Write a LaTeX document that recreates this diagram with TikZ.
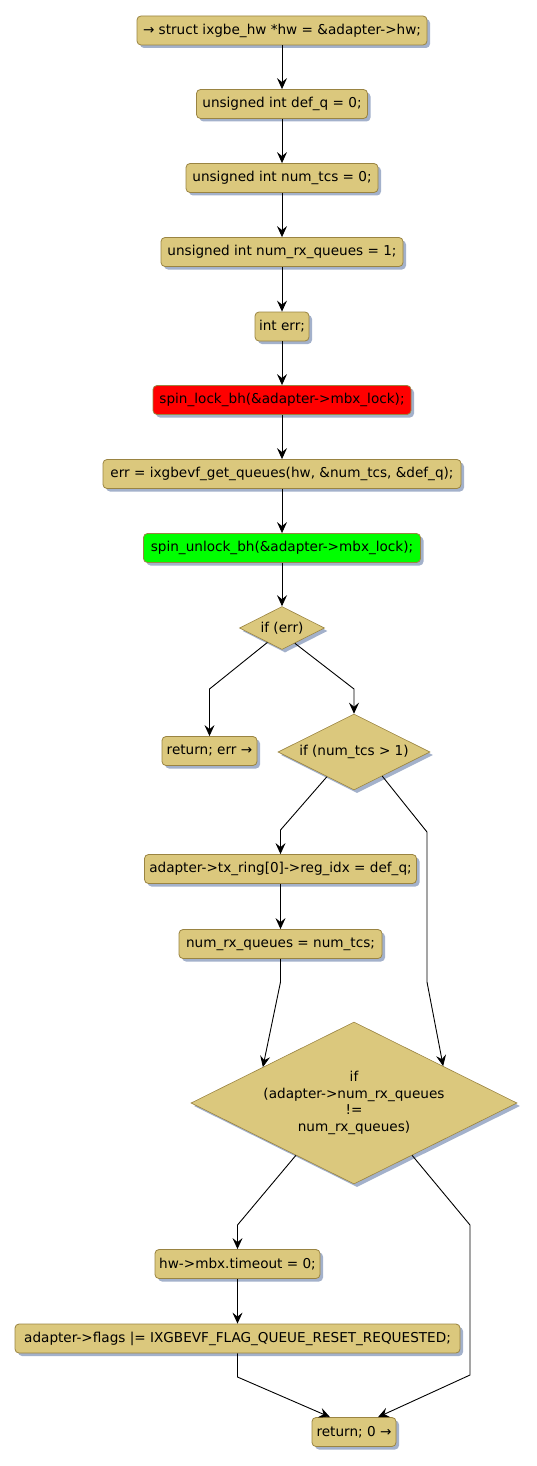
\documentclass[tikz,border=0pt]{standalone}
\usepackage{fontspec}
\setmainfont{DejaVu Sans}
\usetikzlibrary{shapes.geometric,arrows.meta,shadows,calc}
\definecolor{boxfill}{HTML}{DBC87D}
\definecolor{boxline}{HTML}{9A8442}
\definecolor{shadowc}{HTML}{A3B1CB}
\definecolor{lockred}{HTML}{FF0000}
\definecolor{unlockgreen}{HTML}{00FF00}
\tikzset{
  shade3/.style={drop shadow={shadow xshift=3pt,shadow yshift=-3pt,fill=shadowc,opacity=1}},
  act/.style={rectangle,rounded corners=4pt,draw=boxline,fill=boxfill,line width=0.8pt,
    minimum height=29pt,inner sep=0pt,font=\fontsize{13.6}{16.5}\selectfont,shade3},
  cond/.style={diamond,draw=boxline,fill=boxfill,line width=0.6pt,inner sep=0pt,aspect=2,
    font=\fontsize{13.6}{16.5}\selectfont,align=center,shade3},
  arr/.style={draw=black,line width=0.9pt,-{Stealth[length=11pt,width=10pt,inset=4pt]}},
}
\begin{document}
\begin{tikzpicture}[x=1pt,y=-1pt]
\useasboundingbox (0,0) rectangle (536,1466);
\node[act,minimum width=290pt] (n1) at (282,30.5) {→ struct ixgbe\_hw *hw = \&adapter->hw;};
\node[act,minimum width=171pt] (n2) at (282,104) {unsigned int def\_q = 0;};
\node[act,minimum width=192pt] (n3) at (282,178) {unsigned int num\_tcs = 0;};
\node[act,minimum width=242pt] (n4) at (282,252) {unsigned int num\_rx\_queues = 1;};
\node[act,minimum width=54pt] (n5) at (282,326.5) {int err;};
\node[act,minimum width=258pt,fill=lockred] (n6) at (282,400) {spin\_lock\_bh(\&adapter->mbx\_lock);};
\node[act,minimum width=358pt] (n7) at (282,474) {err = ixgbevf\_get\_queues(hw, \&num\_tcs, \&def\_q);};
\node[act,minimum width=277pt,fill=unlockgreen] (n8) at (282,548) {spin\_unlock\_bh(\&adapter->mbx\_lock);};
\node[cond,minimum width=85pt,minimum height=43pt] (c1) at (282,628) {if (err)};
\node[act,minimum width=95pt] (r1) at (209.5,751) {return; err →};
\node[cond,minimum width=152pt,minimum height=76pt] (c2) at (354,752) {if (num\_tcs > 1)};
\node[act,minimum width=272pt] (n9) at (280.5,869) {adapter->tx\_ring[0]->reg\_idx = def\_q;};
\node[act,minimum width=203pt] (n10) at (280.5,944) {num\_rx\_queues = num\_tcs;};
\node[cond,minimum width=326pt,minimum height=162pt] (c3) at (354,1103) {if\\(adapter->num\_rx\_queues\\!=\\num\_rx\_queues)};
\node[act,minimum width=165pt] (n11) at (237.5,1264) {hw->mbx.timeout = 0;};
\node[act,minimum width=445pt] (n12) at (237.5,1338.5) {adapter->flags |= IXGBEVF\_FLAG\_QUEUE\_RESET\_REQUESTED;};
\node[act,minimum width=84pt] (r0) at (354,1432) {return; 0 →};

\draw[arr] (n1) -- (n2);
\draw[arr] (n2) -- (n3);
\draw[arr] (n3) -- (n4);
\draw[arr] (n4) -- (n5);
\draw[arr] (n5) -- (n6);
\draw[arr] (n6) -- (n7);
\draw[arr] (n7) -- (n8);
\draw[arr] (n8.south) -- (c1.north);
\draw[arr] ($(c1.west)!0.66!(c1.south)$) -- (209.5,689) -- (r1.north);
\draw[arr] ($(c1.east)!0.7!(c1.south)$) -- (354,689) -- (c2.north);
\draw[arr] ($(c2.west)!0.645!(c2.south)$) -- (280.5,830) -- (n9.north);
\draw[arr] (n9) -- (n10);
\draw[arr] (n10.south) -- (280.5,982) -- ($(c3.north)!0.558!(c3.west)$);
\draw[arr] ($(c2.east)!0.63!(c2.south)$) -- (427,832) -- (427,982) -- ($(c3.north)!0.546!(c3.east)$);
\draw[arr] ($(c3.west)!0.644!(c3.south)$) -- (237.5,1225) -- (n11.north);
\draw[arr] (n11) -- (n12);
\draw[arr] ($(c3.east)!0.644!(c3.south)$) -- (470,1225) -- (470,1375) -- ($(r0.north)+(24,0)$);
\draw[arr] (n12.south) -- (237.5,1377) -- ($(r0.north)+(-24,0)$);
\end{tikzpicture}
\end{document}
